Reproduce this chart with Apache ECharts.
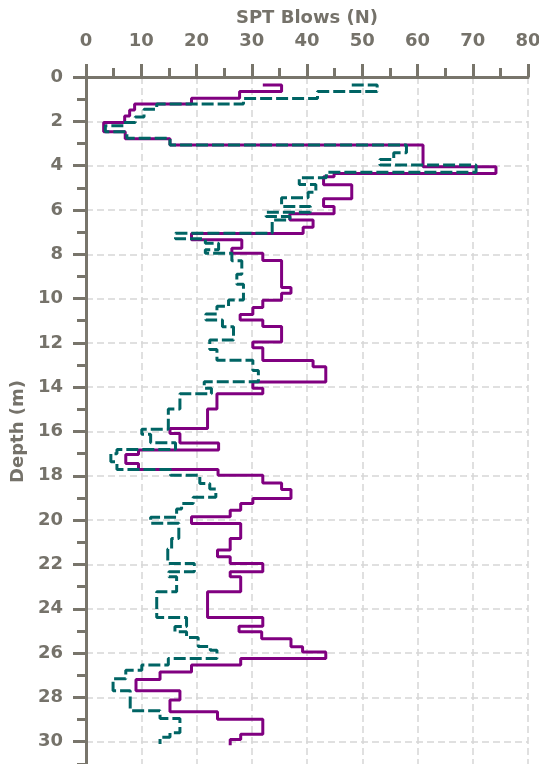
<!DOCTYPE html>
<html>
<head>
<meta charset="utf-8">
<script src="https://cdn.jsdelivr.net/npm/echarts@6/dist/echarts.min.js"></script>
<style>
html,body{margin:0;padding:0;background:#fff;}
#chart{width:539px;height:764px;}
</style>
</head>
<body>
<div id="chart"></div>
<script>
// Purple (solid) profile: N value held down to the given depth (first entry = start point)
const purpleN = [32.0, 35.4, 27.8, 19.1, 8.8, 7.9, 7.0, 3.2, 7.1, 15.2, 61.0, 74.2, 44.9, 43.0, 48.1, 43.0, 44.9, 36.9, 41.1, 39.3,
  19.1, 28.2, 26.4, 32.0, 35.4, 37.1, 35.4, 32.0, 30.2, 27.9, 32.0, 35.4, 30.2, 32.0, 41.1, 43.4, 30.2, 32.0, 23.7, 22.0,
  15.2, 17.0, 24.0, 9.5, 7.2, 9.5, 23.9, 32.0, 35.4, 37.1, 30.2, 28.0, 26.1, 19.1, 28.0, 26.1, 23.8, 26.1, 32.0, 26.1,
  28.0, 22.0, 32.0, 27.7, 31.8, 37.1, 39.2, 43.4, 28.0, 19.1, 13.4, 9.05, 17.0, 15.2, 23.8, 32.0, 28.0, 26.1];
const purpleDepth = [0.36, 0.66, 0.96, 1.22, 1.49, 1.76, 2.05, 2.47, 2.79, 3.07, 4.05, 4.35, 4.5, 4.86, 5.5, 5.85, 6.17, 6.45, 6.78, 7.06,
  7.35, 7.73, 7.96, 8.28, 9.5, 9.76, 10.08, 10.4, 10.72, 10.97, 11.26, 11.96, 12.22, 12.8, 13.08, 13.77, 14.05, 14.3, 14.98, 15.87,
  16.09, 16.52, 16.84, 17.04, 17.44, 17.71, 17.97, 18.32, 18.62, 19.02, 19.25, 19.55, 19.85, 20.15, 20.83, 21.35, 21.65, 21.96, 22.33, 22.56,
  23.23, 24.4, 24.79, 25.04, 25.35, 25.72, 25.95, 26.24, 26.54, 26.85, 27.19, 27.7, 28.12, 28.65, 28.99, 29.66, 29.9, 30.16];

// Teal (dashed) profile
const tealN = [48.1, 52.7, 41.9, 28.5, 12.8, 10.5, 8.9, 6.8, 3.5, 7.4, 15.2, 58.0, 55.7, 53.2, 70.6, 43.5, 38.6, 41.6, 40.2, 35.4,
  40.6, 32.6, 36.9, 33.7, 16.2, 21.6, 24.0, 21.6, 26.4, 28.2, 27.3, 28.5, 25.8, 23.7, 21.7, 24.7, 26.7, 22.4, 23.7, 30.2,
  31.2, 21.4, 22.7, 17.0, 14.9, 10.1, 11.7, 16.2, 5.6, 4.5, 5.6, 15.3, 20.6, 22.4, 23.5, 19.4, 17.3, 16.4, 11.7, 16.8,
  15.5, 14.8, 19.6, 15.0, 16.4, 12.8, 18.2, 16.1, 18.2, 20.3, 22.5, 23.7, 14.9, 10.1, 7.2, 4.9, 8.0, 13.4, 17.0, 15.2, 13.4];
const tealDepth = [0.36, 0.66, 0.97, 1.22, 1.46, 1.8, 2.05, 2.2, 2.47, 2.77, 3.07, 3.42, 3.72, 3.97, 4.3, 4.55, 4.85, 5.2, 5.45, 5.85,
  6.1, 6.3, 6.45, 7.05, 7.3, 7.5, 7.8, 7.95, 8.29, 8.9, 9.35, 10.07, 10.35, 10.7, 10.97, 11.27, 11.87, 12.3, 12.78, 13.25,
  13.75, 14.05, 14.3, 14.98, 15.9, 16.12, 16.51, 16.81, 17.0, 17.37, 17.71, 17.97, 18.35, 18.6, 18.97, 19.25, 19.5, 19.87, 20.14, 20.83,
  21.3, 21.96, 22.33, 22.56, 23.23, 24.4, 24.8, 25.04, 25.3, 25.7, 25.87, 26.24, 26.54, 26.78, 27.16, 27.7, 28.6, 28.95, 29.6, 29.8, 30.1];

const xTitle = 'SPT Blows (N)';
const yTitle = 'Depth (m)';

const axisColor = '#78756b';
const textColor = '#75726a';
const fontFamily = '"DejaVu Sans", Verdana, sans-serif';

function pairs(ns, ds) { return ns.map((n, i) => [n, ds[i]]); }

const chart = echarts.init(document.getElementById('chart'), null, {renderer: 'canvas'});
chart.setOption({
  animation: false,
  backgroundColor: '#ffffff',
  grid: {left: 86, top: 77, width: 442, height: 709, containLabel: false, outerBoundsMode: 'none'},
  xAxis: {
    type: 'value', position: 'top', min: 0, max: 80, interval: 10,
    name: xTitle, nameLocation: 'middle', nameGap: 50,
    nameTextStyle: {color: textColor, fontFamily: fontFamily, fontWeight: 'bold', fontSize: 18},
    axisLine: {show: true, lineStyle: {color: axisColor, width: 3}},
    axisTick: {show: true, length: 13, lineStyle: {color: axisColor, width: 3}},
    minorTick: {show: true, splitNumber: 2, length: 9, lineStyle: {color: axisColor, width: 3}},
    axisLabel: {color: textColor, fontFamily: fontFamily, fontWeight: 'bold', fontSize: 18, margin: 27},
    splitLine: {show: true, lineStyle: {color: '#d6d6d6', width: 1.5, type: [7, 4]}}
  },
  yAxis: {
    type: 'value', inverse: true, min: 0, max: 32, interval: 2,
    name: yTitle, nameLocation: 'middle', nameRotate: 90, nameGap: 57,
    nameTextStyle: {color: textColor, fontFamily: fontFamily, fontWeight: 'bold', fontSize: 18},
    axisLine: {show: true, onZero: false, lineStyle: {color: axisColor, width: 3}},
    axisTick: {show: true, length: 13, lineStyle: {color: axisColor, width: 3}},
    minorTick: {show: true, splitNumber: 2, length: 9, lineStyle: {color: axisColor, width: 3}},
    axisLabel: {color: textColor, fontFamily: fontFamily, fontWeight: 'bold', fontSize: 18, margin: 23},
    splitLine: {show: true, lineStyle: {color: '#d6d6d6', width: 1.5, type: [7, 4]}}
  },
  series: [
    {
      name: 'Purple', type: 'line', step: 'end', symbol: 'none',
      data: pairs(purpleN, purpleDepth),
      lineStyle: {color: '#800080', width: 3}
    },
    {
      name: 'Teal', type: 'line', step: 'end', symbol: 'none',
      data: pairs(tealN, tealDepth),
      lineStyle: {color: '#006464', width: 3, type: [12, 4]}
    }
  ]
});
</script>
</body>
</html>
